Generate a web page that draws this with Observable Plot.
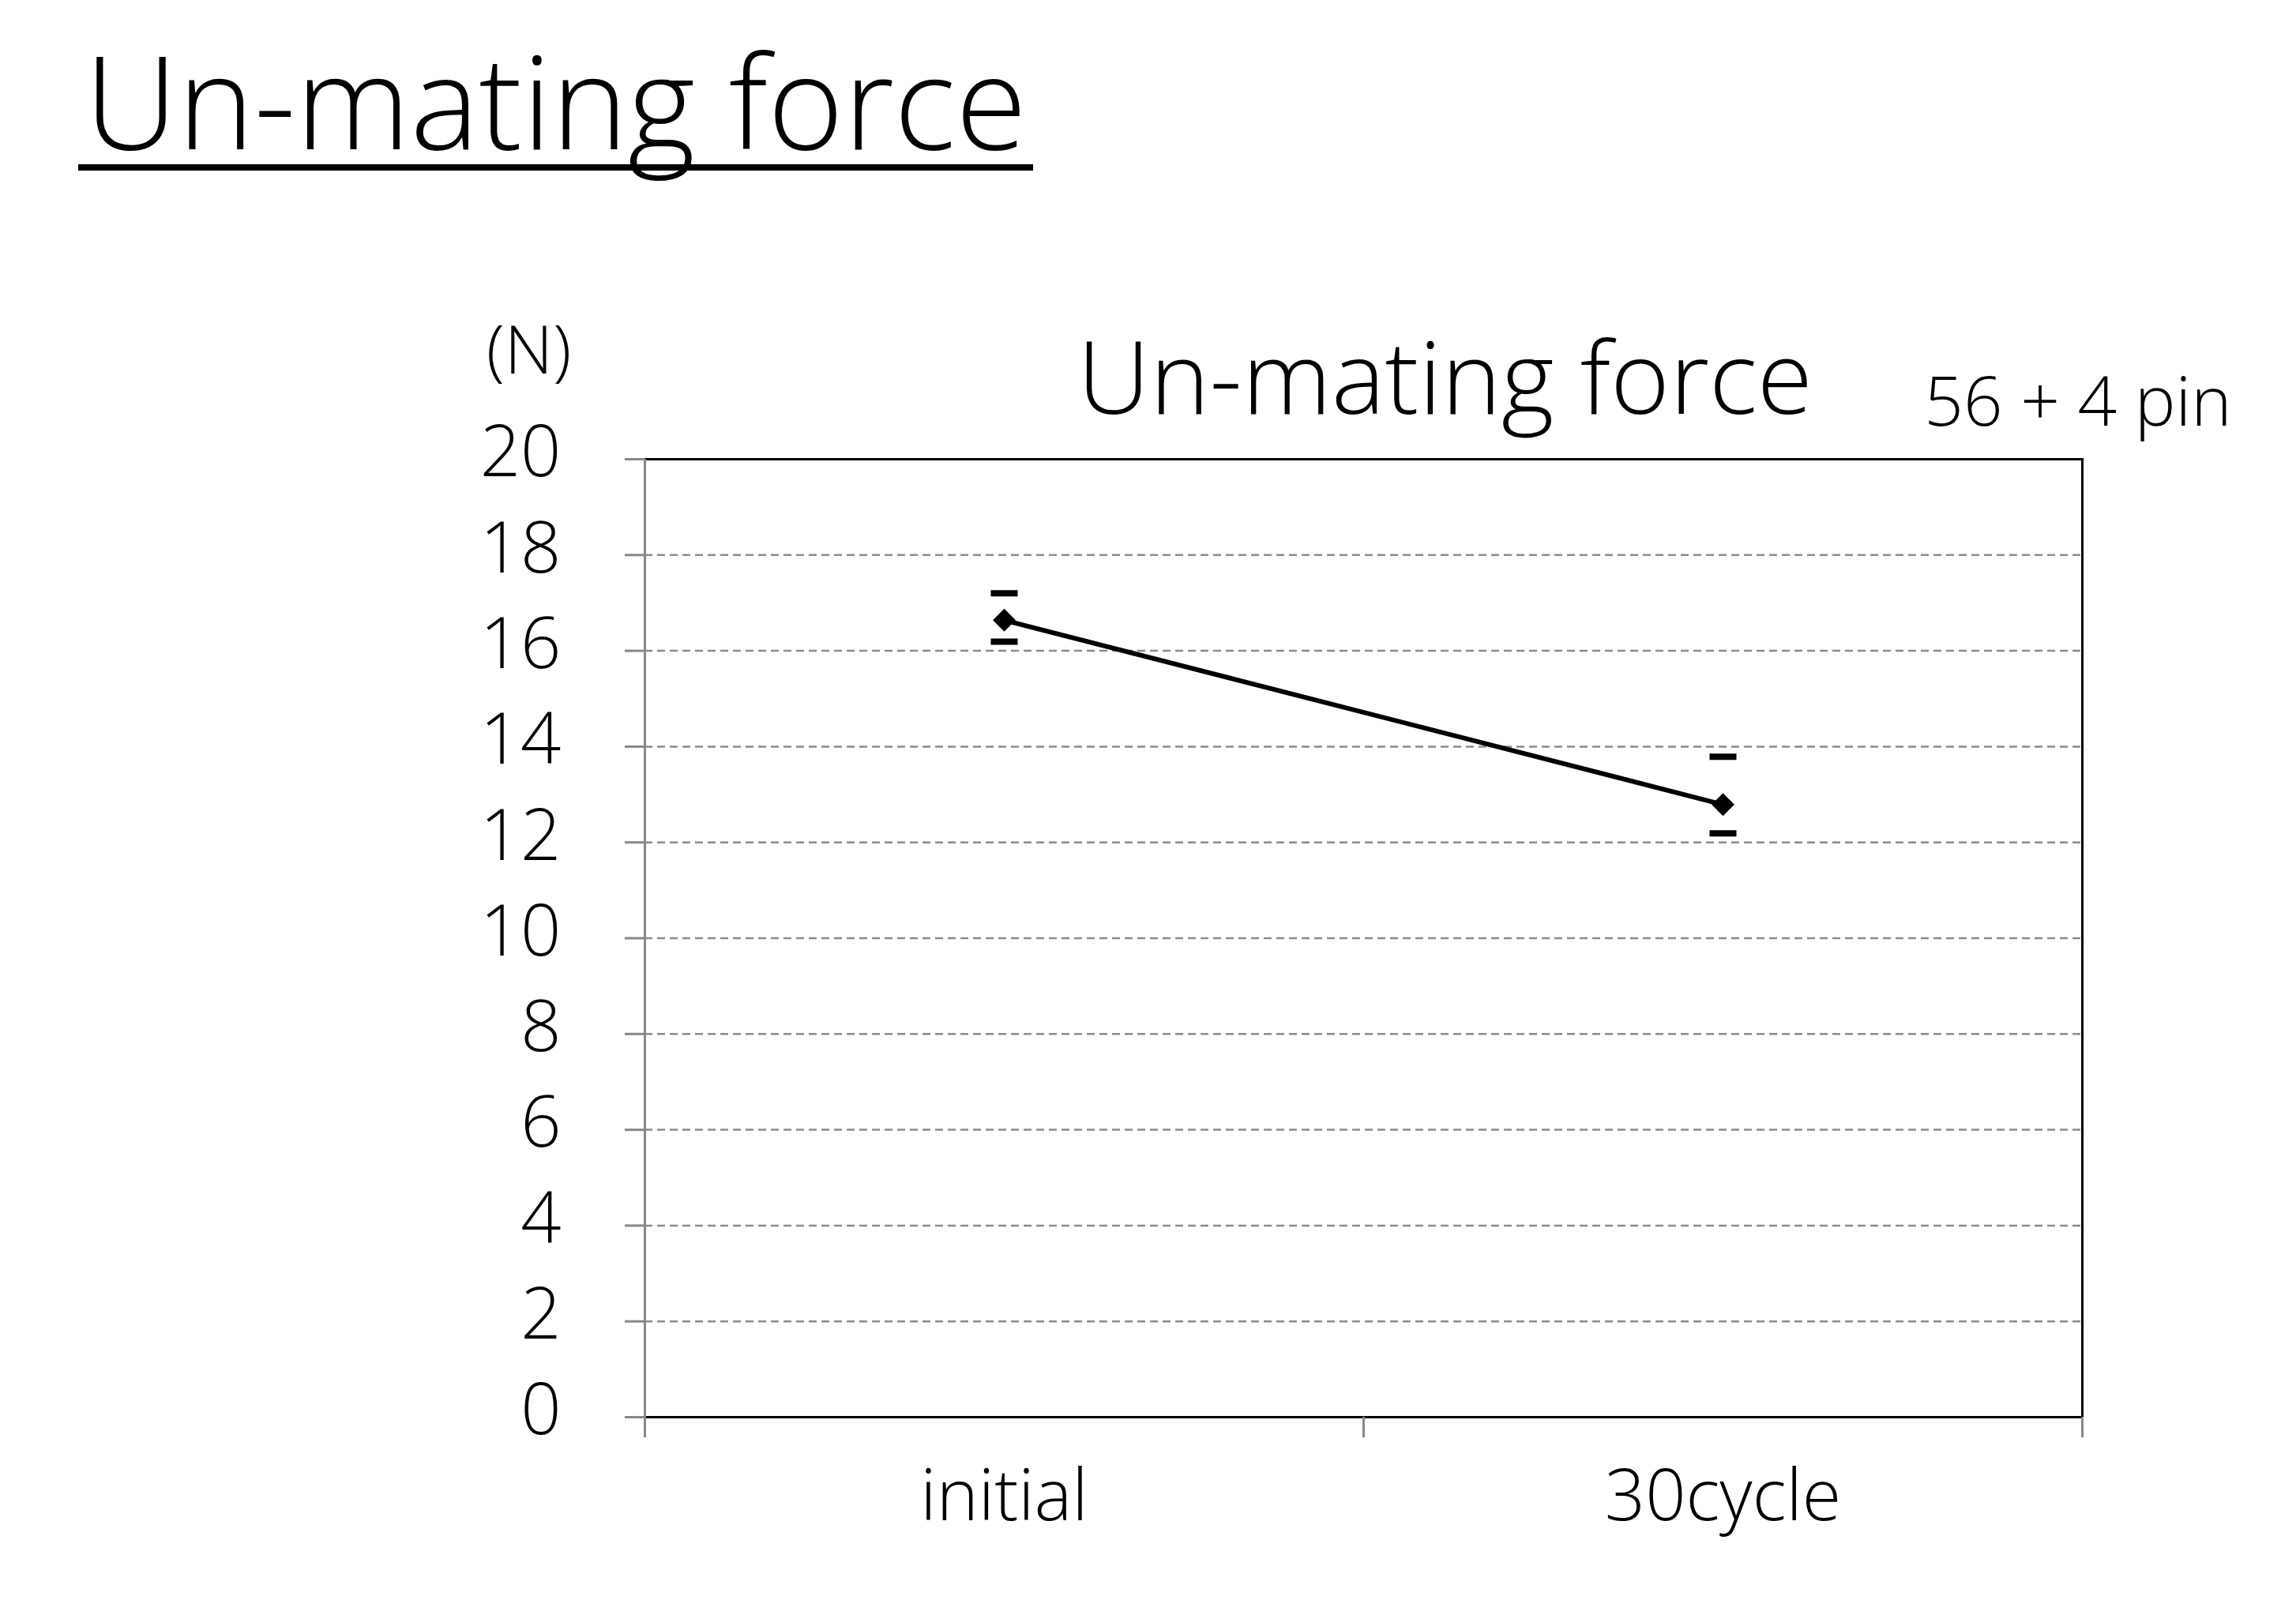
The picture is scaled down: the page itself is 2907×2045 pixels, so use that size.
<!DOCTYPE html>
<html>
<head>
<meta charset="utf-8">
<script src="https://cdn.jsdelivr.net/npm/d3@7"></script>
<script src="https://cdn.jsdelivr.net/npm/@observablehq/plot@0.6"></script>
<style>
  html, body { margin: 0; padding: 0; background: #fff; }
  #page { position: relative; width: 2907px; height: 2045px; background: #fff; font-family: "Open Sans", "Noto Sans", sans-serif; font-weight: 300; color: #000; }
  #title {
    position: absolute; left: 99px; top: 44px;
    display: inline-block;
    font-size: 164px; line-height: 164px; font-weight: 300;
    padding: 0 8px 0 8px;
    border-bottom: 8px solid #000;
    white-space: nowrap;
  }
  #chart { position: absolute; left: 0; top: 240px; }
  #chart svg text { font-weight: 300; }
</style>
</head>
<body>
<div id="page">
  <div id="title">Un-mating force</div>
  <div id="chart"></div>
</div>
<script>
// ---- data ----
const categories = ["initial", "30cycle"];
const meanValues = [16.64, 12.79];
const upperValues = [17.20, 13.79];
const lowerValues = [16.19, 12.19];
const yTicks = [0, 2, 4, 6, 8, 10, 12, 14, 16, 18, 20];
const chartTitle = "Un-mating force";
const unitLabel = "(N)";
const pinLabel = "56 + 4 pin";

// ---- table built from arrays ----
const rows = categories.map((c, i) => ({
  pos: i + 0.5,
  category: c,
  mean: meanValues[i],
  upper: upperValues[i],
  lower: lowerValues[i]
}));
const boundaries = d3.range(categories.length + 1);

// error-bar cap symbol (short thick horizontal bar)
const capSymbol = {
  draw(context) {
    context.moveTo(-17, -4);
    context.lineTo(17, -4);
    context.lineTo(17, 4);
    context.lineTo(-17, 4);
    context.closePath();
  }
};

const plot = Plot.plot({
  width: 2907,
  height: 1805,
  marginLeft: 816,
  marginRight: 271,
  marginTop: 341,
  marginBottom: 251,
  style: { fontFamily: '"Open Sans", "Noto Sans", sans-serif', fontSize: "88px", color: "black", background: "white", overflow: "visible" },
  x: { type: "linear", domain: [0, categories.length], label: null },
  y: { domain: [0, 20], label: null },
  marks: [
    Plot.gridY({ ticks: yTicks.filter(v => v > 0 && v < 20), stroke: "#8c8c8c", strokeOpacity: 1, strokeWidth: 2.5, strokeDasharray: "10,6" }),
    Plot.frame({ stroke: "black", strokeWidth: 3 }),
    Plot.ruleX([0], { stroke: "#888", strokeWidth: 3 }),
    // y ticks
    Plot.axisY({ ticks: yTicks, tickSize: 25, tickFormat: () => "", stroke: "#888", strokeWidth: 3, label: null }),
    // y labels
    Plot.axisY({ ticks: yTicks, tickSize: 0, tickPadding: 106, dy: -7, tickFormat: d => String(d), fontSize: 90, fill: "black", label: null }),
    // x boundary ticks
    Plot.axisX({ ticks: boundaries, tickSize: 26, tickFormat: () => "", stroke: "#888", strokeWidth: 3, label: null }),
    // x category labels
    Plot.axisX({ ticks: rows.map(d => d.pos), tickSize: 0, tickPadding: 67, tickFormat: d => categories[Math.round(d - 0.5)], fontSize: 90, fill: "black", label: null }),
    // series
    Plot.line(rows, { x: "pos", y: "mean", stroke: "black", strokeWidth: 6 }),
    Plot.dot(rows, { x: "pos", y: "mean", symbol: "diamond2", r: 13, fill: "black", stroke: "none" }),
    Plot.dot(rows, { x: "pos", y: "upper", symbol: capSymbol, fill: "black", stroke: "none" }),
    Plot.dot(rows, { x: "pos", y: "lower", symbol: capSymbol, fill: "black", stroke: "none" }),
    // annotations
    Plot.text([chartTitle], { text: d => d, frameAnchor: "top", textAnchor: "middle", lineAnchor: "bottom", dx: 103, dy: -58, fontSize: 128, fill: "black" }),
    Plot.text([unitLabel], { text: d => d, frameAnchor: "top-left", textAnchor: "middle", lineAnchor: "bottom", dx: -147, dy: -109, fontSize: 85, fill: "black" }),
    Plot.text([pinLabel], { text: d => d, frameAnchor: "top-right", textAnchor: "end", lineAnchor: "bottom", dx: 189, dy: -43, fontSize: 87, fill: "black" })
  ]
});
document.getElementById("chart").appendChild(plot);
</script>
</body>
</html>
